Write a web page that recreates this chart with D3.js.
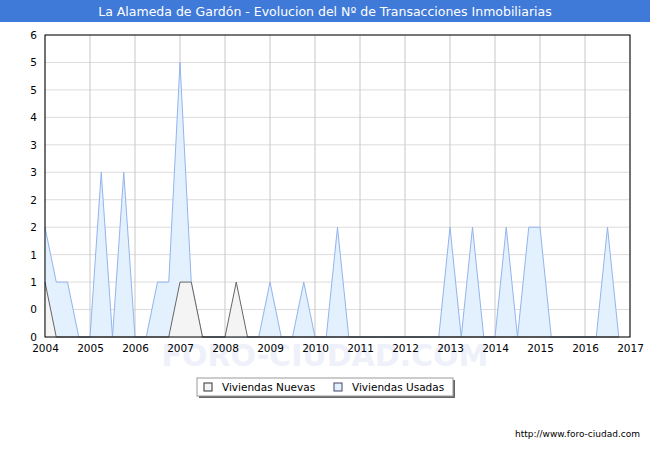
<!DOCTYPE html><html><head><meta charset="utf-8"><script src="https://cdn.jsdelivr.net/npm/d3@7"></script>
<style>body{margin:0;background:#fff}</style></head><body><svg id="c" width="650" height="450"></svg>
<script>
const years=[2004,2005,2006,2007,2008,2009,2010,2011,2012,2013,2014,2015,2016,2017];
const quarterTimes=d3.range(52).map(i=>2004+i/4);
const usadas=[2,1,1,0, 0,3,0,3, 0,0,1,1, 5,1,0,0, 0,0,0,0, 1,0,0,1, 0,0,2,0, 0,0,0,0, 0,0,0,0, 2,0,2,0, 0,2,0,2, 2,0,0,0, 0,0,2,0];
const nuevas=[1,0,0,0, 0,0,0,0, 0,0,0,0, 1,1,0,0, 0,1,0,0, 0,0,0,0, 0,0,0,0, 0,0,0,0, 0,0,0,0, 0,0,0,0, 0,0,0,0, 0,0,0,0, 0,0,0,0];
const yTicks=d3.range(12).map(i=>i*0.5);
const yLabels=["0","0","1","1","2","2","3","3","4","5","5","6"];
const svg=d3.select("#c"),F="DejaVu Sans, Verdana, sans-serif";
svg.append("rect").attr("x",0).attr("y",0).attr("width",650).attr("height",450).attr("fill","#fff");
svg.append("rect").attr("x",0).attr("y",0).attr("width",650).attr("height",22).attr("fill","#3f7ad8");
svg.append("text").attr("x",325).attr("y",16).attr("text-anchor","middle").attr("fill","#fff").attr("font-family",F).attr("font-size",12.5).text("La Alameda de Gardón - Evolucion del Nº de Transacciones Inmobiliarias");
const x=d3.scaleLinear().domain([2004,2017]).range([45,630]);
const y=d3.scaleLinear().domain([0,5.5]).range([337,35]);
svg.append("text").attr("x",325).attr("y",366).attr("text-anchor","middle").attr("fill","#eef0fa").attr("font-family",F).attr("font-size",30).attr("font-weight","bold").text("FORO-CIUDAD.COM");
const g=svg.append("g");
yTicks.forEach(t=>g.append("line").attr("x1",45).attr("x2",630).attr("y1",y(t)).attr("y2",y(t)).attr("stroke","#dcdcdc"));
years.forEach(t=>g.append("line").attr("x1",x(t)).attr("x2",x(t)).attr("y1",35).attr("y2",337).attr("stroke","#c8c8c8"));
const area=d=>d3.area().x((v,i)=>x(quarterTimes[i])).y0(y(0)).y1(v=>y(v))(d);
const line=d=>d3.line().x((v,i)=>x(quarterTimes[i])).y(v=>y(v))(d);
g.append("path").attr("d",area(usadas)).attr("fill","#e3f0fd");
g.append("path").attr("d",line(usadas)).attr("fill","none").attr("stroke","#93b4ec").attr("stroke-width",1);
g.append("path").attr("d",area(nuevas)).attr("fill","#f4f4f4");
g.append("path").attr("d",line(nuevas)).attr("fill","none").attr("stroke","#666").attr("stroke-width",1);
g.append("rect").attr("x",45).attr("y",35).attr("width",585).attr("height",302).attr("fill","none").attr("stroke","#000");
g.append("g").attr("transform","translate(45,0)").call(d3.axisLeft(y).tickValues(yTicks).tickSize(0).tickPadding(8).tickFormat((d,i)=>yLabels[i])).call(a=>a.select(".domain").remove()).selectAll("text").attr("font-family",F).attr("font-size",10.5).attr("fill","#000");
g.append("g").attr("transform","translate(0,337)").call(d3.axisBottom(x).tickValues(years).tickSize(0).tickPadding(8).tickFormat(d3.format("d"))).call(a=>a.select(".domain").remove()).selectAll("text").attr("font-family",F).attr("font-size",10.5).attr("fill","#000");
const lg=svg.append("g");
lg.append("rect").attr("x",199).attr("y",380).attr("width",256).attr("height",18).attr("fill","#666");
lg.append("rect").attr("x",197).attr("y",378).attr("width",256).attr("height",18).attr("fill","#fff").attr("stroke","#999");
[["Viviendas Nuevas","#f4f4f4","#333",204],["Viviendas Usadas","#e3f0fd","#446",334]].forEach(([t,f,s,px])=>{
lg.append("rect").attr("x",px).attr("y",383).attr("width",8).attr("height",8).attr("fill",f).attr("stroke",s);
lg.append("text").attr("x",px+18).attr("y",391).attr("font-family",F).attr("font-size",10.5).text(t);});
svg.append("text").attr("x",640).attr("y",437).attr("text-anchor","end").attr("font-family",F).attr("font-size",9).text("http://www.foro-ciudad.com");
</script></body></html>
